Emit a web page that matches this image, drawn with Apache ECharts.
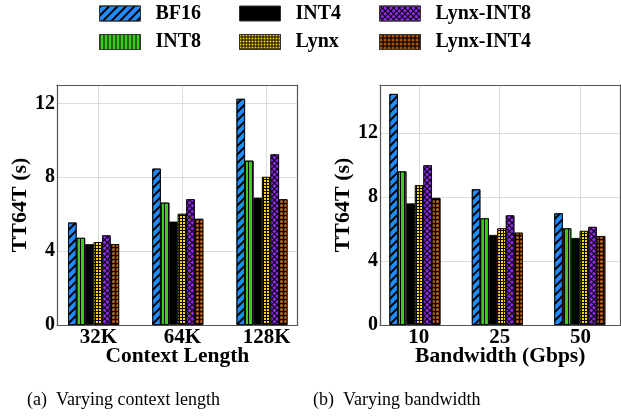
<!DOCTYPE html>
<html>
<head>
<meta charset="utf-8">
<script src="https://cdn.jsdelivr.net/npm/echarts@6/dist/echarts.min.js"></script>
<style>html,body{margin:0;padding:0;background:#fff}#c{width:621px;height:416px}</style>
</head>
<body>
<div id="c"></div>
<script>
// ---- data ----
const contextCats = ['32K', '64K', '128K'];
const bandwidthCats = ['10', '25', '50'];
const seriesNames = ['BF16', 'INT8', 'INT4', 'Lynx', 'Lynx-INT8', 'Lynx-INT4'];

const ctxBF16     = [5.55, 8.47, 12.25];
const ctxINT8     = [4.72, 6.63, 8.90];
const ctxINT4     = [4.38, 5.60, 6.90];
const ctxLynx     = [4.49, 6.02, 8.02];
const ctxLynxINT8 = [4.85, 6.81, 9.24];
const ctxLynxINT4 = [4.38, 5.75, 6.81];

const bwBF16     = [14.44, 8.48, 6.98];
const bwINT8     = [9.60, 6.67, 6.04];
const bwINT4     = [7.60, 5.63, 5.44];
const bwLynx     = [8.73, 6.04, 5.88];
const bwLynxINT8 = [9.98, 6.85, 6.13];
const bwLynxINT4 = [7.94, 5.77, 5.56];

const yTickStep = 4;
const ctxYMax = 13;
const bwYMax = 15;

// ---- styles ----
const FONT = '"Liberation Serif", "DejaVu Serif", serif';
const styles = {
  'BF16':      {color: '#1f8cff', decal: {symbol: 'rect', symbolSize: 1, color: '#000', dashArrayX: [1, 0], dashArrayY: [1.2, 3.2], rotation: -Math.PI / 4}},
  'INT8':      {color: '#3ccc1e', decal: {symbol: 'rect', symbolSize: 1, color: '#000', dashArrayX: [1, 2.2], dashArrayY: [1, 0], rotation: 0}},
  'INT4':      {color: '#000000', decal: null},
  'Lynx':      {color: '#000000', decal: {symbol: 'rect', symbolSize: 1, color: '#ffd800', dashArrayX: [2, 1], dashArrayY: [2, 1], rotation: 0}},
  'Lynx-INT8': {color: '#000000', decal: {symbol: 'rect', symbolSize: 1, color: '#8a2be2', dashArrayX: [2.2, 1], dashArrayY: [2.2, 1], rotation: Math.PI / 4}},
  'Lynx-INT4': {color: '#000000', decal: {symbol: 'circle', symbolSize: 1, color: '#c8640a', dashArrayX: [2.5, 0.5], dashArrayY: [2.5, 0.5], rotation: 0}}
};

const ctxData = [ctxBF16, ctxINT8, ctxINT4, ctxLynx, ctxLynxINT8, ctxLynxINT4];
const bwData = [bwBF16, bwINT8, bwINT4, bwLynx, bwLynxINT8, bwLynxINT4];

const TOP = 85, H = 240, BAND = 84.2;
const gridLine = {show: true, lineStyle: {color: '#dcdcdc', width: 1}};
const frameLine = {show: true, onZero: false, lineStyle: {color: '#555', width: 1.2}};
const xTickFont = {fontFamily: FONT, fontWeight: 'bold', fontSize: 21, color: '#000'};
const yTickFont = {fontFamily: FONT, fontWeight: 'bold', fontSize: 20, color: '#000'};

function panel(frameLeft, frameWidth, tickCenter0, barCenter0, cats, yMax, xName, gi) {
  const grids = [
    {left: frameLeft, top: TOP, width: frameWidth, height: H},
    {left: barCenter0 - BAND / 2, top: TOP, width: BAND * 3, height: H},
    {left: tickCenter0 - BAND / 2, top: TOP, width: BAND * 3, height: H}
  ];
  const xAxes = [
    {gridIndex: gi, type: 'value', min: 0, max: 1, position: 'bottom', axisLine: frameLine, axisTick: {show: false}, axisLabel: {show: false}, splitLine: {show: false},
     name: xName, nameLocation: 'middle', nameGap: 20, nameTextStyle: {fontFamily: FONT, fontWeight: 'bold', fontSize: 21.5, color: '#000'}},
    {gridIndex: gi, type: 'value', min: 0, max: 1, position: 'top', axisLine: frameLine, axisTick: {show: false}, axisLabel: {show: false}, splitLine: {show: false}},
    {gridIndex: gi + 1, type: 'category', data: cats, show: false},
    {gridIndex: gi + 2, type: 'category', data: cats, position: 'bottom', axisLine: {show: false}, axisTick: {show: false},
     axisLabel: Object.assign({margin: 2}, xTickFont), splitLine: Object.assign({alignWithLabel: true}, gridLine)}
  ];
  const yAxes = [
    {gridIndex: gi, type: 'value', min: 0, max: yMax, interval: yTickStep, position: 'left', axisLine: frameLine, axisTick: {show: false},
     axisLabel: Object.assign({margin: 2, showMaxLabel: false}, yTickFont), splitLine: gridLine,
     name: 'TT64T (s)', nameLocation: 'middle', nameGap: 24, nameTextStyle: {fontFamily: FONT, fontWeight: 'bold', fontSize: 22, color: '#000'}},
    {gridIndex: gi, type: 'value', min: 0, max: yMax, position: 'right', axisLine: frameLine, axisTick: {show: false}, axisLabel: {show: false}, splitLine: {show: false}},
    {gridIndex: gi + 1, type: 'value', min: 0, max: yMax, show: false, splitLine: {show: false}},
    {gridIndex: gi + 2, type: 'value', min: 0, max: yMax, show: false, splitLine: {show: false}}
  ];
  return {grids, xAxes, yAxes};
}

const pA = panel(57, 240.7, 98.3, 93.6, contextCats, ctxYMax, 'Context Length', 0);
const pB = panel(380, 240.5, 420.5, 415.8, bandwidthCats, bwYMax, 'Bandwidth (Gbps)', 3);
pA.barX = 2; pA.barY = 2;
pB.barX = 6; pB.barY = 6;

function makeSeries(p, dataSets) {
  return seriesNames.map((n, i) => {
    const itemStyle = {color: styles[n].color, borderColor: '#000', borderWidth: 0.8};
    if (styles[n].decal) itemStyle.decal = styles[n].decal;
    return {
      name: n, type: 'bar', xAxisIndex: p.barX, yAxisIndex: p.barY,
      barWidth: 8.5, barGap: '0%',
      data: dataSets[i],
      itemStyle: itemStyle,
      emphasis: {disabled: true}
    };
  });
}

const legendBase = {orient: 'vertical', top: 3.5, padding: 0, itemWidth: 41, itemHeight: 15, itemGap: 8.5, icon: 'rect',
  textStyle: {fontFamily: FONT, fontWeight: 'bold', fontSize: 20, color: '#000', lineHeight: 20, padding: [0, 0, 0, 10]},
  itemStyle: {borderColor: '#333', borderWidth: 1}, selectedMode: false};

const option = {
  animation: false,
  textStyle: {fontFamily: FONT},
  legend: [
    Object.assign({left: 99, data: ['BF16', 'INT8']}, legendBase),
    Object.assign({left: 239, data: ['INT4', 'Lynx']}, legendBase),
    Object.assign({left: 379, data: ['Lynx-INT8', 'Lynx-INT4']}, legendBase)
  ],
  title: [
    {text: '(a)  Varying context length', left: 27, top: 391, textStyle: {fontFamily: FONT, fontWeight: 'normal', fontSize: 18, color: '#000'}, padding: 0},
    {text: '(b)  Varying bandwidth', left: 313, top: 391, textStyle: {fontFamily: FONT, fontWeight: 'normal', fontSize: 18, color: '#000'}, padding: 0}
  ],
  grid: pA.grids.concat(pB.grids),
  xAxis: pA.xAxes.concat(pB.xAxes),
  yAxis: pA.yAxes.concat(pB.yAxes),
  series: makeSeries(pA, ctxData).concat(makeSeries(pB, bwData))
};

const chart = echarts.init(document.getElementById('c'), null, {renderer: 'canvas'});
chart.setOption(option);
</script>
</body>
</html>
